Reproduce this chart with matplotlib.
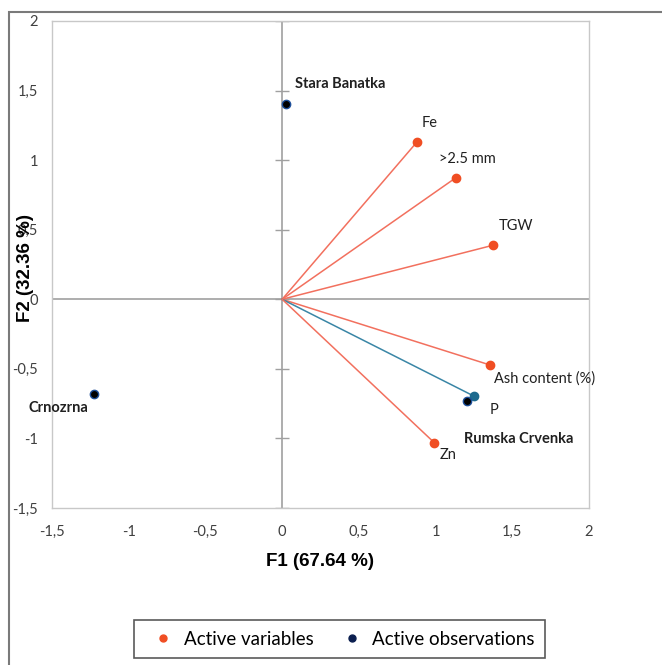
import matplotlib.pyplot as plt
import matplotlib.patches as patches
from matplotlib.lines import Line2D

# variables (loadings) and observations (scores)
var_names = ["Fe", ">2.5 mm", "TGW", "Ash content (%)", "P", "Zn"]
var_f1 = [0.876, 1.130, 1.373, 1.354, 1.252, 0.991]
var_f2 = [1.127, 0.872, 0.388, -0.472, -0.697, -1.030]

obs_names = ["Stara Banatka", "Rumska Crvenka", "Crnozrna"]
obs_f1 = [0.028, 1.204, -1.228]
obs_f2 = [1.407, -0.733, -0.683]

ticks = [-1.5, -1, -0.5, 0, 0.5, 1, 1.5, 2]
tick_labels = ["-1,5", "-1", "-0,5", "0", "0,5", "1", "1,5", "2"]

# label offsets in points
var_off = [(4, 14), (-12, 14), (4, 14), (3, -10), (11, -10), (4, -9)]
obs_off = [(6, 14), (-2, -27), (-4, -10)]
obs_ha = ["left", "left", "right"]

red = "#f04e23"
red_line = "#f2705e"
blue = "#1d6a8e"
blue_line = "#3a86a6"
navy = "#0b1f4f"

fig = plt.figure(figsize=(6.62, 6.65), dpi=100)
ax = fig.add_axes([52/662, 1-508/665, 537/662, 487/665])

ax.set_xlim(-1.5, 2)
ax.set_ylim(-1.5, 2)

for s in ax.spines.values():
    s.set_color("#c8c8c8")
    s.set_linewidth(1)

ax.axhline(0, color="#a0a0a0", lw=1.2, zorder=1)
ax.axvline(0, color="#a0a0a0", lw=1.2, zorder=1)
# tick marks on the vertical zero line
ax.plot([0]*len(ticks), ticks, ls="none", marker="_", ms=10, mew=1, color="#a0a0a0", zorder=1)

ax.set_xticks(ticks)
ax.set_xticklabels(tick_labels)
ax.set_yticks(ticks)
ax.set_yticklabels(tick_labels)
ax.tick_params(length=0, labelsize=10.5, labelcolor="#404040")
ax.tick_params(axis="x", pad=12)
ax.tick_params(axis="y", pad=10)
for lab in ax.get_xticklabels() + ax.get_yticklabels():
    lab.set_family("Lato")

# vectors
for name, x, y in zip(var_names, var_f1, var_f2):
    if name == "P":
        lc, mc = blue_line, blue
    else:
        lc, mc = red_line, red
    ax.plot([0, x], [0, y], color=lc, lw=1.1, zorder=2)
    ax.plot(x, y, "o", ms=6, color=mc, zorder=3)

for name, x, y, off in zip(var_names, var_f1, var_f2, var_off):
    ax.annotate(name, (x, y), xytext=off, textcoords="offset points",
                ha="left", va="center", fontsize=10.5, family="Lato", color="#202020")

# observations
ax.plot(obs_f1, obs_f2, "o", ls="none", ms=6, color="black", mec="#1d4f9a", mew=1, zorder=4)
for name, x, y, off, ha in zip(obs_names, obs_f1, obs_f2, obs_off, obs_ha):
    ax.annotate(name, (x, y), xytext=off, textcoords="offset points",
                ha=ha, va="center", fontsize=10.5, family="Lato", weight="bold", color="#202020")

fig.text(320/662, 1-561/665, "F1 (67.64 %)", ha="center", va="center",
         fontsize=13.5, weight="bold", family="Liberation Sans")
fig.text(25/662, 1-268/665, "F2 (32.36 %)", ha="center", va="center", rotation=90,
         fontsize=13.5, weight="bold", family="Liberation Sans")

# outer chart border
fig.add_artist(patches.Rectangle((9/662, -0.1), 1.2, 1-12/665+0.1, transform=fig.transFigure,
                                 fill=False, edgecolor="#7a7a7a", lw=1.5, clip_on=False))

handles = [Line2D([], [], ls="none", marker="o", ms=5, color=red),
           Line2D([], [], ls="none", marker="o", ms=5, color=navy)]
leg = fig.legend(handles, ["Active variables", "Active observations"], loc="lower left",
                 bbox_to_anchor=(134/662, 1-658/665, 411/662, 41/665), mode="expand",
                 borderaxespad=0, ncol=2, frameon=True, fancybox=False,
                 prop={"family": "Lato", "size": 13.5}, handletextpad=0.1, handlelength=2.0,
                 borderpad=0.55)
leg.get_frame().set_edgecolor("#303030")
leg.get_frame().set_linewidth(1.2)

fig.savefig("out.png", dpi=100)
